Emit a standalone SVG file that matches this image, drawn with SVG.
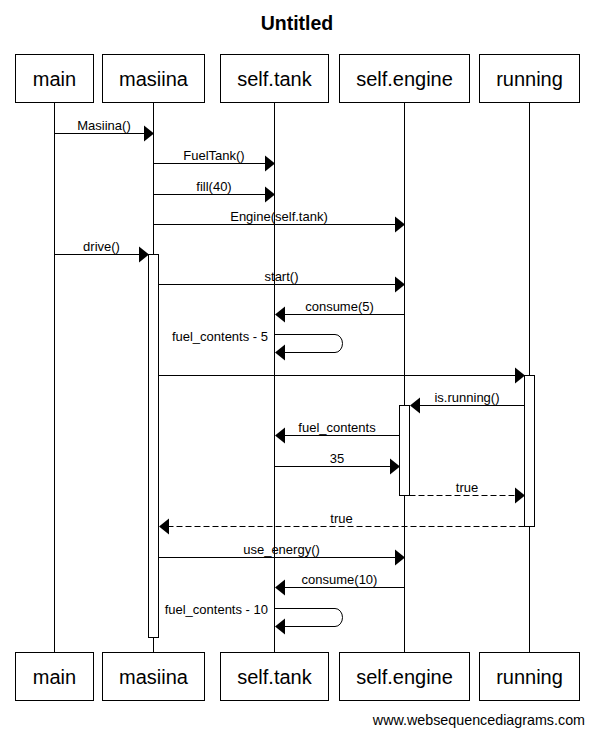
<svg xmlns="http://www.w3.org/2000/svg" width="594" height="735" viewBox="0 0 594 735">
<style>
.box{fill:#fff;stroke:#000;stroke-width:1}
.name{font-family:"Liberation Sans",Arial,sans-serif;font-size:20px;text-anchor:middle;fill:#000}
.lbl{font-family:"Liberation Sans",Arial,sans-serif;font-size:13px;text-anchor:middle;fill:#000}
.life{stroke:#000;stroke-width:1;fill:none}
.msg{stroke:#000;stroke-width:1;fill:none}
.ret{stroke:#000;stroke-width:1;fill:none;stroke-dasharray:6,3}
.act{fill:#fff;stroke:#000;stroke-width:1}
.head{fill:#000;stroke:none}
</style>
<rect width="594" height="735" fill="#fff"/>
<text x="297" y="30" font-family="Liberation Sans,Arial,sans-serif" font-size="19.5" font-weight="bold" text-anchor="middle">Untitled</text>

<g id="lifelines">
<line class="life" x1="54.5" y1="103" x2="54.5" y2="652"/>
<line class="life" x1="153.5" y1="103" x2="153.5" y2="652"/>
<line class="life" x1="274.5" y1="103" x2="274.5" y2="652"/>
<line class="life" x1="404.5" y1="103" x2="404.5" y2="652"/>
<line class="life" x1="529.5" y1="103" x2="529.5" y2="652"/>
</g>

<g id="activations">
<rect class="act" x="148.5" y="254.5" width="10" height="383"/>
<rect class="act" x="524.5" y="375.5" width="10" height="151"/>
<rect class="act" x="399.5" y="405.5" width="10" height="90"/>
</g>

<g id="main">
<rect class="box" x="15.5" y="54.5" width="78" height="48"/>
<text class="name" x="54.5" y="86">main</text>
<rect class="box" x="15.5" y="652.5" width="78" height="48"/>
<text class="name" x="54.5" y="684">main</text>
</g>
<g id="masiina">
<rect class="box" x="102.5" y="54.5" width="102" height="48"/>
<text class="name" x="153.5" y="86">masiina</text>
<rect class="box" x="102.5" y="652.5" width="102" height="48"/>
<text class="name" x="153.5" y="684">masiina</text>
</g>
<g id="self.tank">
<rect class="box" x="220.5" y="54.5" width="108" height="48"/>
<text class="name" x="274.5" y="86">self.tank</text>
<rect class="box" x="220.5" y="652.5" width="108" height="48"/>
<text class="name" x="274.5" y="684">self.tank</text>
</g>
<g id="self.engine">
<rect class="box" x="339.5" y="54.5" width="130" height="48"/>
<text class="name" x="404.5" y="86">self.engine</text>
<rect class="box" x="339.5" y="652.5" width="130" height="48"/>
<text class="name" x="404.5" y="684">self.engine</text>
</g>
<g id="running">
<rect class="box" x="479.5" y="54.5" width="100" height="48"/>
<text class="name" x="529.5" y="86">running</text>
<rect class="box" x="479.5" y="652.5" width="100" height="48"/>
<text class="name" x="529.5" y="684">running</text>
</g>

<g id="connectors">
<line class="msg" x1="54.5" y1="133.5" x2="144" y2="133.5"/>
<polygon class="head" points="154,133.5 144,125.5 144,141.5"/>
<text class="lbl" x="104" y="130">Masiina()</text>
<line class="msg" x1="153.5" y1="163.5" x2="265" y2="163.5"/>
<polygon class="head" points="275,163.5 265,155.5 265,171.5"/>
<text class="lbl" x="214" y="160">FuelTank()</text>
<line class="msg" x1="153.5" y1="194.5" x2="265" y2="194.5"/>
<polygon class="head" points="275,194.5 265,186.5 265,202.5"/>
<text class="lbl" x="214" y="191">fill(40)</text>
<line class="msg" x1="153.5" y1="224.5" x2="395" y2="224.5"/>
<polygon class="head" points="405,224.5 395,216.5 395,232.5"/>
<text class="lbl" x="279" y="221">Engine(self.tank)</text>
<line class="msg" x1="54.5" y1="254.5" x2="139" y2="254.5"/>
<polygon class="head" points="149,254.5 139,246.5 139,262.5"/>
<text class="lbl" x="101.5" y="251">drive()</text>
<line class="msg" x1="158.5" y1="284.5" x2="395" y2="284.5"/>
<polygon class="head" points="405,284.5 395,276.5 395,292.5"/>
<text class="lbl" x="281.5" y="281">start()</text>
<line class="msg" x1="404.5" y1="314.5" x2="285" y2="314.5"/>
<polygon class="head" points="275,314.5 285,306.5 285,322.5"/>
<text class="lbl" x="339.5" y="311">consume(5)</text>
<path class="msg" d="M274.5,334.5 H335 A7.5,9 0 0 1 342.5,343.5 A7.5,9 0 0 1 335,352.5 H285"/>
<polygon class="head" points="275,352.5 285,344.5 285,360.5"/>
<text class="lbl" x="268" y="341" style="text-anchor:end">fuel_contents - 5</text>
<line class="msg" x1="158.5" y1="375.5" x2="515" y2="375.5"/>
<polygon class="head" points="525,375.5 515,367.5 515,383.5"/>
<line class="msg" x1="524.5" y1="405.5" x2="420" y2="405.5"/>
<polygon class="head" points="410,405.5 420,397.5 420,413.5"/>
<text class="lbl" x="467" y="402">is.running()</text>
<line class="msg" x1="399.5" y1="435.5" x2="285" y2="435.5"/>
<polygon class="head" points="275,435.5 285,427.5 285,443.5"/>
<text class="lbl" x="337" y="432">fuel_contents</text>
<line class="msg" x1="274.5" y1="466.5" x2="390" y2="466.5"/>
<polygon class="head" points="400,466.5 390,458.5 390,474.5"/>
<text class="lbl" x="337" y="463">35</text>
<line class="ret" x1="409.5" y1="495.5" x2="515" y2="495.5"/>
<polygon class="head" points="525,495.5 515,487.5 515,503.5"/>
<text class="lbl" x="467" y="492">true</text>
<line class="ret" x1="524.5" y1="526.5" x2="169" y2="526.5"/>
<polygon class="head" points="159,526.5 169,518.5 169,534.5"/>
<text class="lbl" x="341.5" y="523">true</text>
<line class="msg" x1="158.5" y1="557.5" x2="395" y2="557.5"/>
<polygon class="head" points="405,557.5 395,549.5 395,565.5"/>
<text class="lbl" x="281.5" y="554">use_energy()</text>
<line class="msg" x1="404.5" y1="587.5" x2="285" y2="587.5"/>
<polygon class="head" points="275,587.5 285,579.5 285,595.5"/>
<text class="lbl" x="339.5" y="584">consume(10)</text>
<path class="msg" d="M274.5,608.5 H335 A7.5,9 0 0 1 342.5,617.5 A7.5,9 0 0 1 335,626.5 H285"/>
<polygon class="head" points="275,626.5 285,618.5 285,634.5"/>
<text class="lbl" x="268" y="614" style="text-anchor:end">fuel_contents - 10</text>
</g>

<text x="585" y="725" font-family="Liberation Sans,Arial,sans-serif" font-size="14.3" text-anchor="end">www.websequencediagrams.com</text>
</svg>
